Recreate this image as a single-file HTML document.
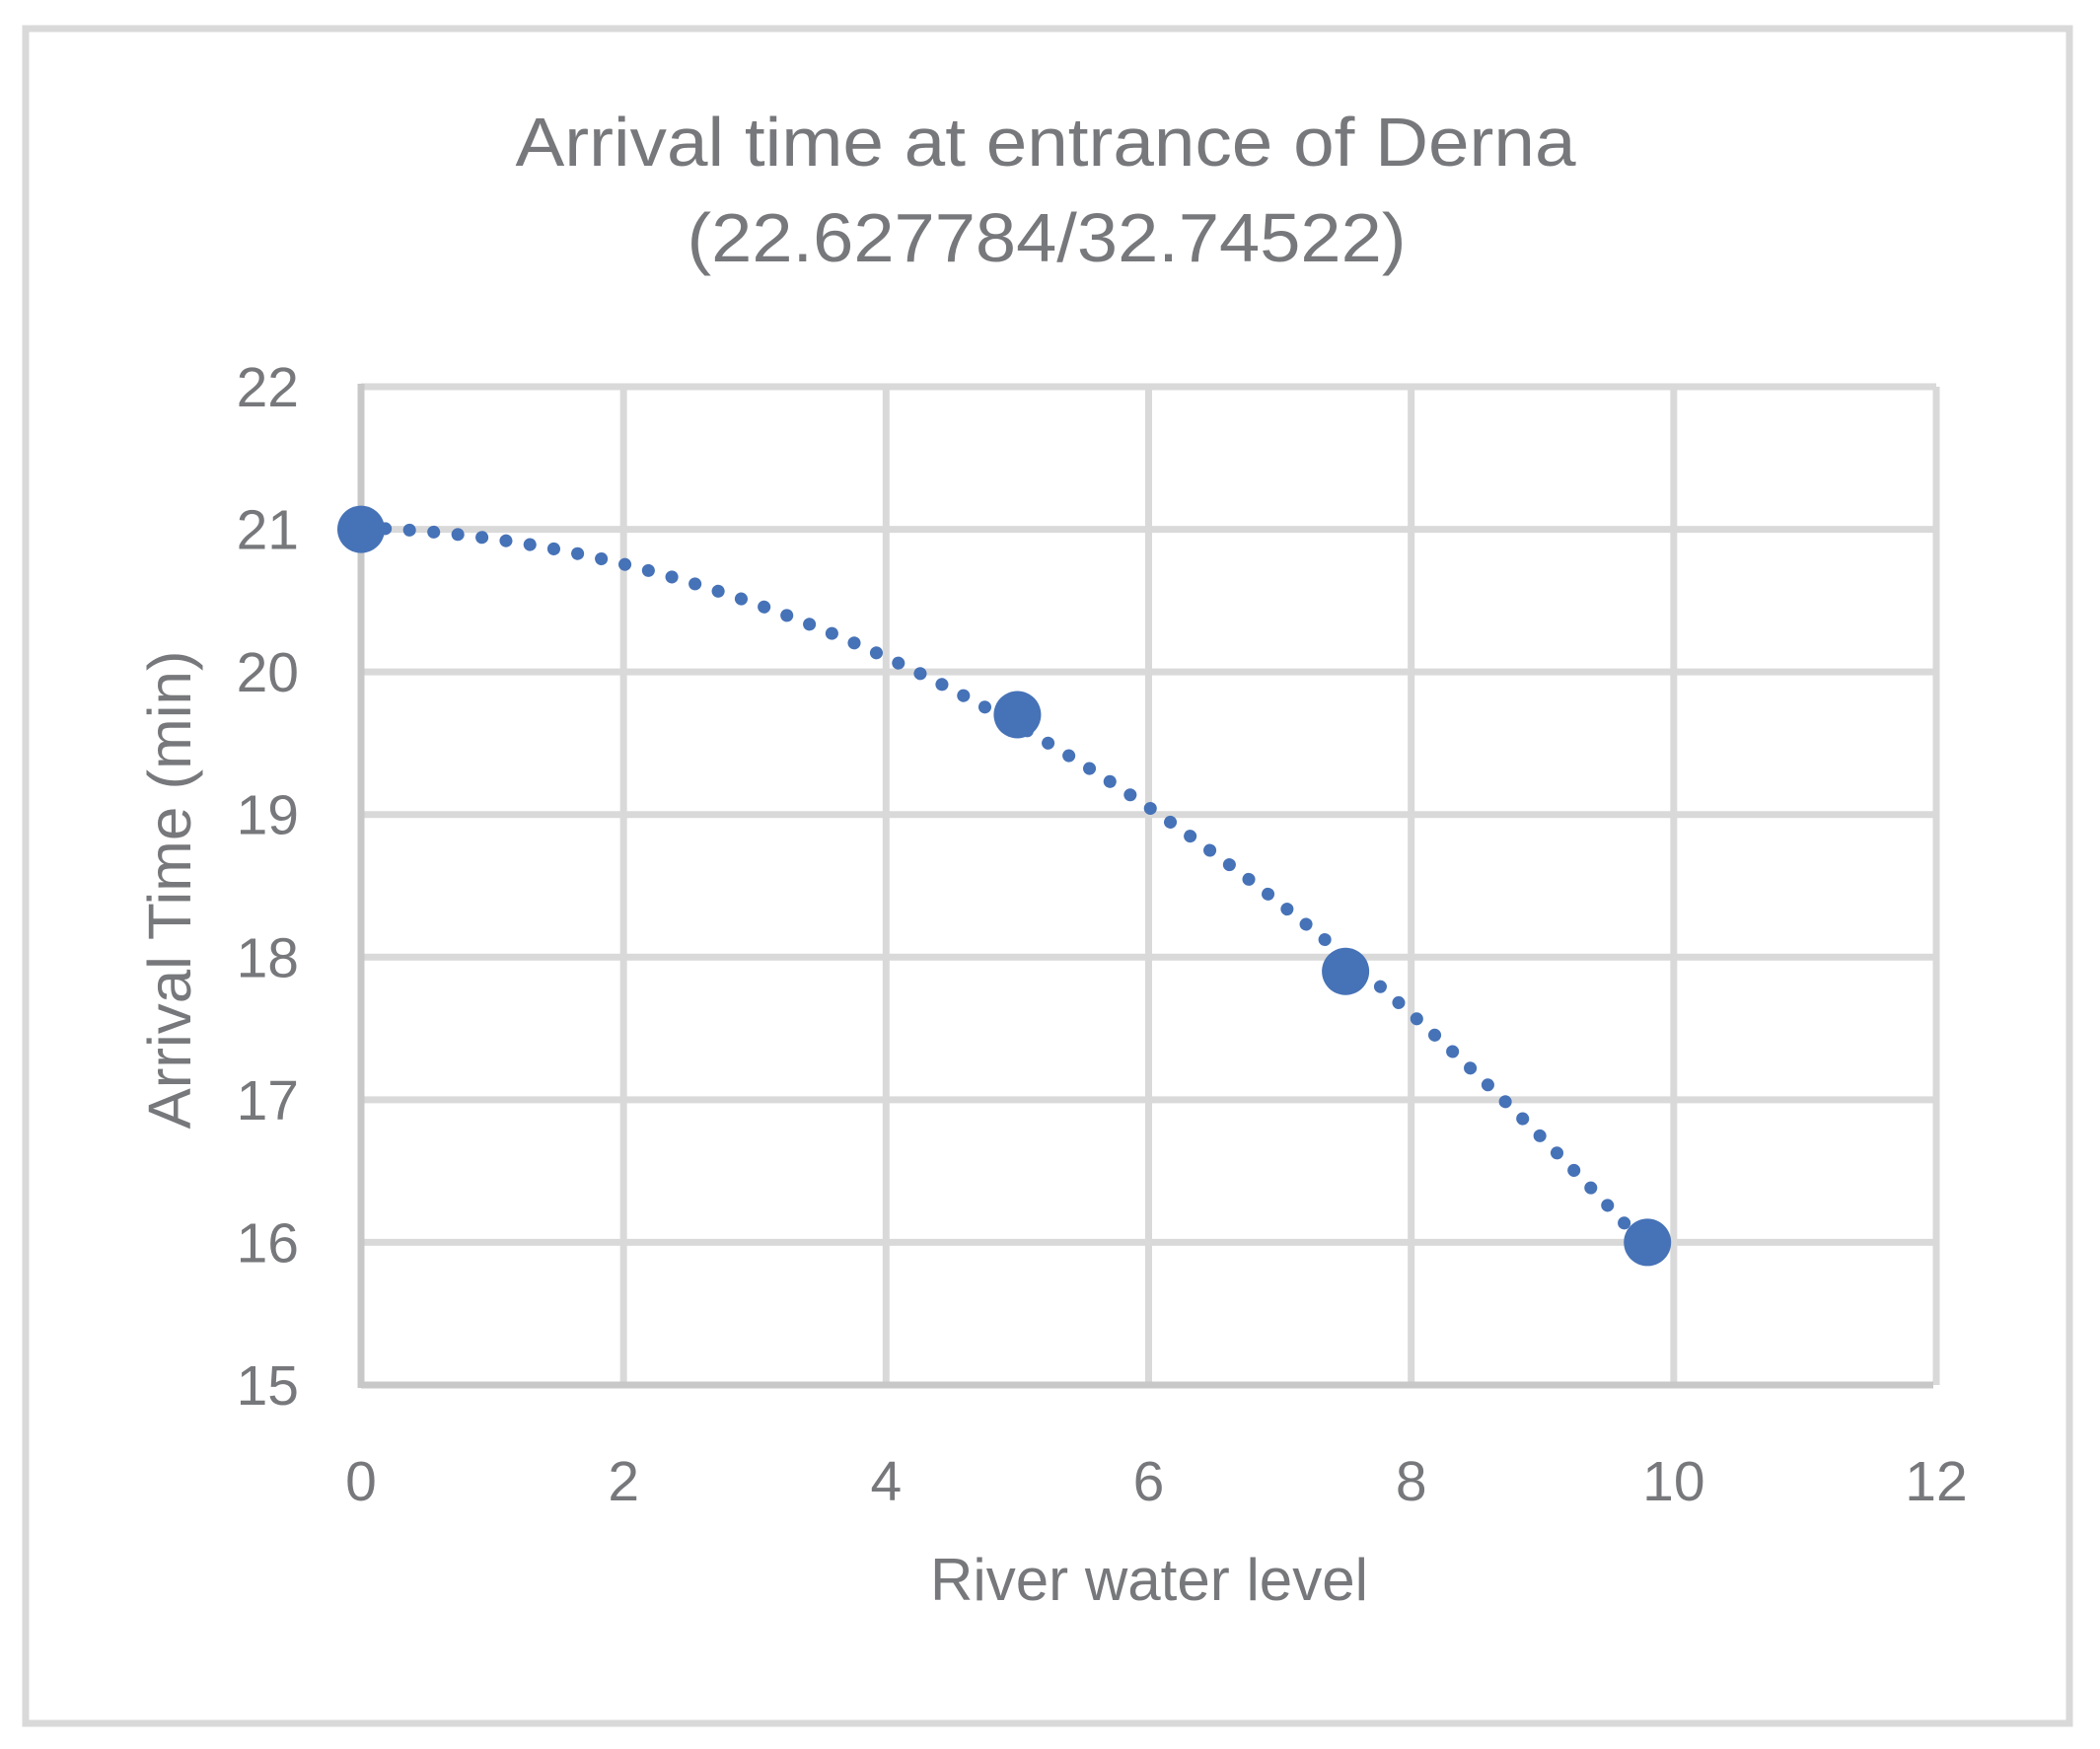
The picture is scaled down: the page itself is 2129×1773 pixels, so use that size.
<!DOCTYPE html>
<html><head><meta charset="utf-8"><style>
html,body{margin:0;padding:0;background:#fff;}
svg{display:block;}
text{font-family:"Liberation Sans",sans-serif;fill:#77787b;}
</style></head><body>
<svg id="chart" width="2129" height="1773" viewBox="0 0 2129 1773" xmlns="http://www.w3.org/2000/svg">
<rect x="26" y="29" width="2072" height="1718" fill="#fff" stroke="#d9d9d9" stroke-width="7"/>
<text x="1060" y="168" font-size="70" text-anchor="middle" textLength="1075" lengthAdjust="spacingAndGlyphs">Arrival time at entrance of Derna</text>
<text x="1061" y="265" font-size="70" text-anchor="middle" textLength="729" lengthAdjust="spacingAndGlyphs">(22.627784/32.74522)</text>
<g id="grid"></g>
<g id="axes"></g>
<g id="trend"></g>
<g id="points"></g>
<text x="1165" y="1622" font-size="60" text-anchor="middle" textLength="444" lengthAdjust="spacingAndGlyphs">River water level</text>
<text x="0" y="0" font-size="61" text-anchor="middle" textLength="485" lengthAdjust="spacingAndGlyphs" transform="translate(193,902) rotate(-90)">Arrival Time (min)</text>
</svg>
<script>
const xValues = [0, 5, 7.5, 9.8];
const yValues = [21, 19.7, 17.9, 16];
const xTicks = [0, 2, 4, 6, 8, 10, 12];
const yTicks = [15, 16, 17, 18, 19, 20, 21, 22];

const NS = "http://www.w3.org/2000/svg";
const X0 = 366, X1 = 1963, Y0 = 1404, Y1 = 392;
const xMin = 0, xMax = 12, yMin = 15, yMax = 22;
function xs(v){ return X0 + (v - xMin) / (xMax - xMin) * (X1 - X0); }
function ys(v){ return Y0 - (v - yMin) / (yMax - yMin) * (Y0 - Y1); }
function mk(tag, attrs, parent){
  const e = document.createElementNS(NS, tag);
  for (const k in attrs) e.setAttribute(k, attrs[k]);
  parent.appendChild(e); return e;
}
const grid = document.getElementById('grid');
const axes = document.getElementById('axes');

xTicks.forEach(t => {
  if (t === xMin) return;
  const l = mk('line', {x1: xs(t), x2: xs(t), y1: Y1, y2: Y0, stroke: '#d9d9d9', 'stroke-width': 7}, grid);
  
  
});
yTicks.forEach(t => {
  if (t === yMin) return;
  const l = mk('line', {x1: X0, x2: X1, y1: ys(t), y2: ys(t), stroke: '#d9d9d9', 'stroke-width': 7}, grid);
  
  
});
const ya = mk('line', {x1: X0, x2: X0, y1: Y1 - 3, y2: Y0 + 3, stroke: '#c8c8c8', 'stroke-width': 7}, axes);


const xa = mk('line', {x1: X0, x2: X1 - 3, y1: Y0, y2: Y0, stroke: '#c8c8c8', 'stroke-width': 7}, axes);



xTicks.forEach(t => {
  const tx = mk('text', {x: xs(t), y: 1521, 'font-size': 57, 'text-anchor': 'middle'}, axes);
  tx.textContent = String(t);
  
  
});
yTicks.forEach(t => {
  const tx = mk('text', {x: 303, y: ys(t) + 20, 'font-size': 57, 'text-anchor': 'end'}, axes);
  tx.textContent = String(t);
  
  
});

(function(){
  const n = xValues.length;
  let S = [0,0,0,0,0], T = [0,0,0];
  for (let i = 0; i < n; i++){
    const x = xValues[i], y = yValues[i];
    for (let p = 0; p < 5; p++) S[p] += Math.pow(x, p);
    for (let p = 0; p < 3; p++) T[p] += y * Math.pow(x, p);
  }
  const A = [[S[0],S[1],S[2],T[0]],[S[1],S[2],S[3],T[1]],[S[2],S[3],S[4],T[2]]];
  for (let i = 0; i < 3; i++){
    for (let j = i + 1; j < 3; j++){
      const f = A[j][i] / A[i][i];
      for (let k = i; k < 4; k++) A[j][k] -= f * A[i][k];
    }
  }
  const c = [0,0,0];
  for (let i = 2; i >= 0; i--){
    let s = A[i][3];
    for (let k = i + 1; k < 3; k++) s -= A[i][k] * c[k];
    c[i] = s / A[i][i];
  }
  const xa0 = Math.min(...xValues), xa1 = Math.max(...xValues);
  let d = '';
  for (let i = 0; i <= 200; i++){
    const x = xa0 + (xa1 - xa0) * i / 200;
    const y = c[0] + c[1] * x + c[2] * x * x;
    d += (i ? 'L' : 'M') + xs(x).toFixed(2) + ' ' + ys(y).toFixed(2);
  }
  const p = mk('path', {d: d, fill: 'none', stroke: '#4672b7', 'stroke-width': 13, 'stroke-linecap': 'round', 'stroke-dasharray': '0.1 24.5'}, document.getElementById('trend'));
  
  
})();

xValues.forEach((x, i) => {
  const c = mk('circle', {cx: xs(x), cy: ys(yValues[i]), r: 24, fill: '#4672b7'}, document.getElementById('points'));
  
  
});
</script>
</body></html>
